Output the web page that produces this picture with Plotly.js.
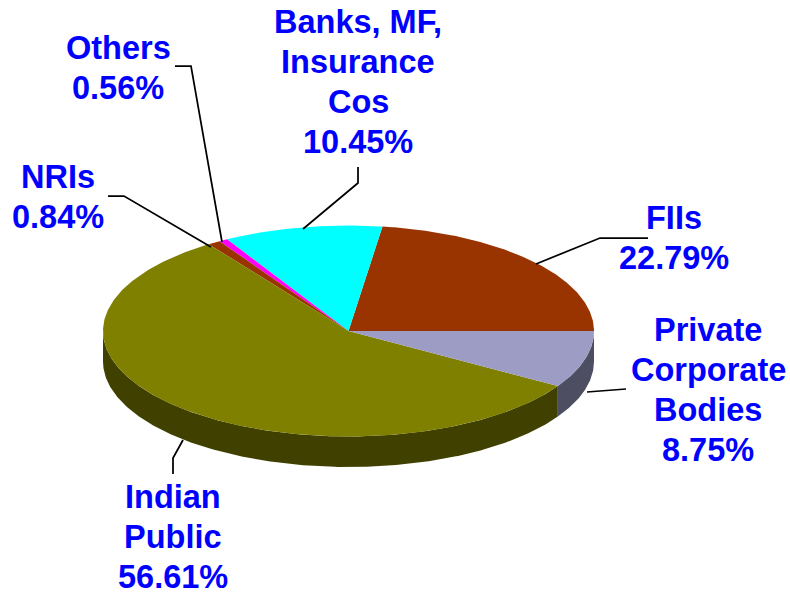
<!DOCTYPE html>
<html><head><meta charset="utf-8">
<script src="https://cdn.plot.ly/plotly-3.0.1.min.js"></script>
<style>html,body{margin:0;padding:0;background:#fff}#c{width:790px;height:596px}</style></head>
<body><div id="c"></div>
<script>
const categories = [["FIIs"],["Banks, MF,","Insurance","Cos"],["Others"],["NRIs"],["Indian","Public"],["Private","Corporate","Bodies"]];
const shares = [22.79,10.45,0.56,0.84,56.61,8.75];
const topColors = ["#993300","#00ffff","#ff00ff","#993300","#808000","#9c9cc4"];
const sideColors = ["#4d1a00","#008080","#800080","#4d1a00","#404000","#4e4e62"];

// Picture geometry (pixels): ellipse centre, radii and wall depth
const W=790,H=596,CX=348.5,CY=331,RX=245.5,RY=105.5,DEPTH=30.5,LINE=40.3;
const toX=p=>(p-CX)/RX, toY=p=>(CY-p)/RY;

const labelCentres = [[674,238],[358,82],[118,68],[58,197],[173,537],[708,390]];
const leaders = [
  [[648,238],[600,238],[536,264]],
  [[358,167],[358,183],[303,229]],
  [[175,66],[191,66],[222,242]],
  [[108,196],[124,196],[211,247]],
  [[173,474],[173,458],[183,440]],
  [[626,389],[609,390],[587,392]]
];

const total=shares.reduce((a,b)=>a+b,0);
const arc=(a0,a1)=>{const n=Math.max(2,Math.ceil(Math.abs(a1-a0)/0.01)),o=[];
  for(let i=0;i<=n;i++)o.push(a0+(a1-a0)*i/n);return o;};
let sides=[],tops=[],acc=0;
shares.forEach((v,i)=>{
  const a0=acc/total*2*Math.PI; acc+=v; const a1=acc/total*2*Math.PI;
  const ang=arc(a0,a1);
  tops.push({type:"scatter",mode:"lines",fill:"toself",fillcolor:topColors[i],
    line:{width:0,color:topColors[i]},hoverinfo:"text",
    text:categories[i].join(" ")+" "+v.toFixed(2)+"%",showlegend:false,
    x:[0,...ang.map(Math.cos),0],y:[0,...ang.map(t=>Math.sin(t)),0]});
  // visible wall: the part of the rim on the near side (below the centre)
  const lo=Math.max(a0,Math.PI), hi=Math.min(a1,2*Math.PI);
  if(hi>lo){
    const w=arc(lo,hi), d=DEPTH/RY;
    sides.push({type:"scatter",mode:"lines",fill:"toself",fillcolor:sideColors[i],
      line:{width:0,color:sideColors[i]},hoverinfo:"skip",showlegend:false,
      x:[...w.map(Math.cos),...w.slice().reverse().map(Math.cos)],
      y:[...w.map(Math.sin),...w.slice().reverse().map(t=>Math.sin(t)-d)]});
  }
});
const leaderTraces=leaders.map(l=>({type:"scatter",mode:"lines",hoverinfo:"skip",showlegend:false,
  line:{color:"#000",width:1.75},x:l.map(p=>toX(p[0])),y:l.map(p=>toY(p[1]))}));

const annotations=categories.flatMap((c,i)=>{
  const lines=[...c,shares[i].toFixed(2)+"%"];
  return lines.map((t,j)=>({
    x:toX(labelCentres[i][0]),y:toY(labelCentres[i][1]+(j-(lines.length-1)/2)*LINE),xref:"x",yref:"y",
    text:t,showarrow:false,xanchor:"center",yanchor:"middle",align:"center",
    font:{family:"Liberation Sans, Arial, sans-serif",size:32.5,color:"#0000ff",weight:700}
  }));
});
const ax={visible:false,fixedrange:true,showgrid:false,zeroline:false};
Plotly.newPlot("c",[...sides,...tops,...leaderTraces],{
  width:W,height:H,margin:{l:0,r:0,t:0,b:0},paper_bgcolor:"#fff",plot_bgcolor:"#fff",showlegend:false,
  xaxis:{...ax,range:[toX(0),toX(W)]},yaxis:{...ax,range:[toY(H),toY(0)]},annotations
},{displayModeBar:false});
</script></body></html>
